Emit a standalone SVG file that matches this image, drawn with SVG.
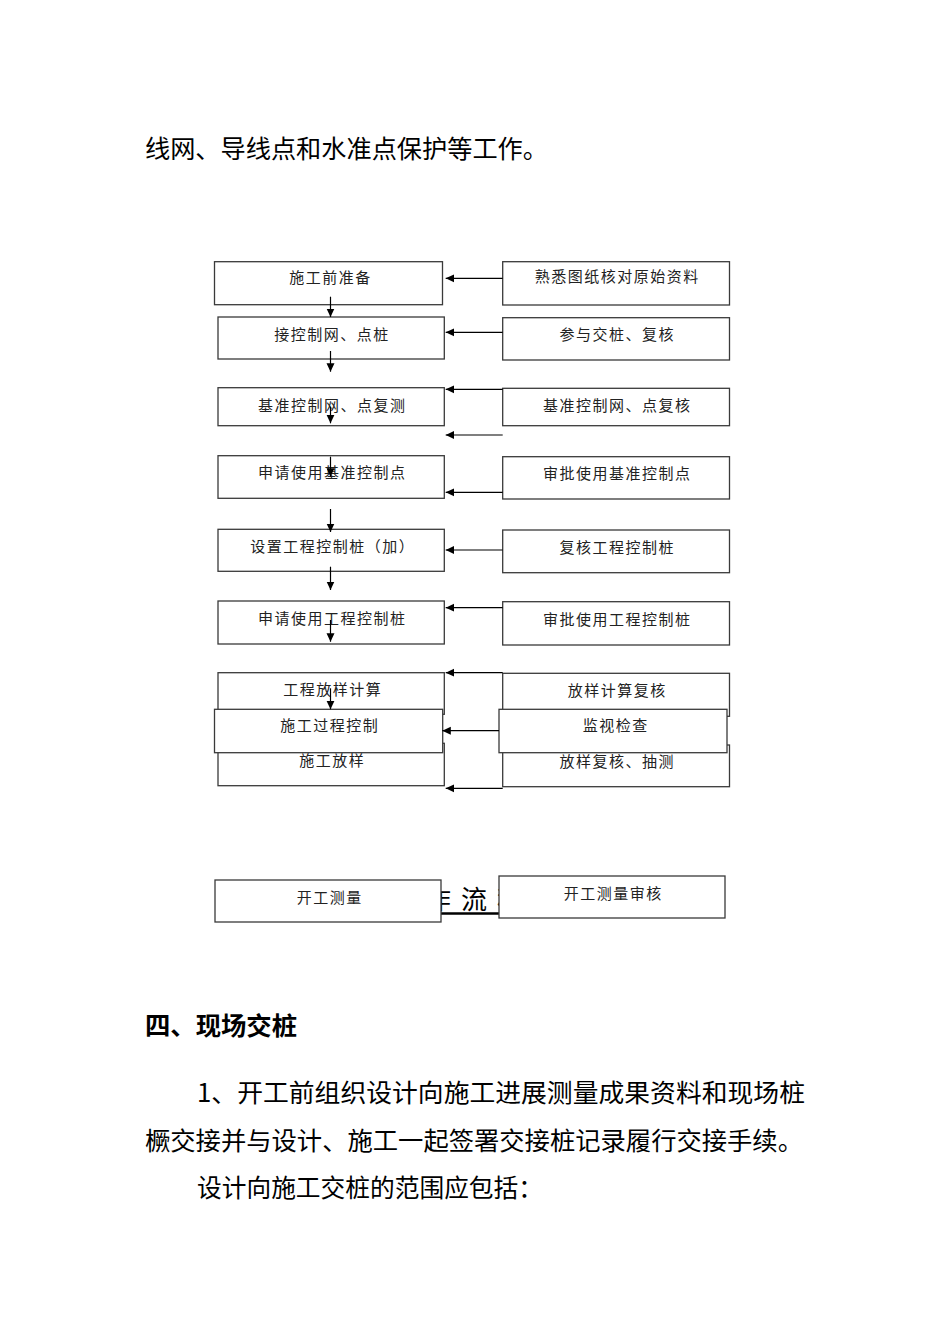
<svg xmlns="http://www.w3.org/2000/svg" width="950" height="1344" viewBox="0 0 950 1344">
<style>
.body{font-family:"Noto Sans CJK SC","Liberation Serif",sans-serif;font-size:25px;fill:#000}
.bold{font-weight:bold}
.box rect{fill:#fff;stroke:#3a3a3a;stroke-width:1.3}
.box text{font-family:"Noto Sans CJK SC",sans-serif;font-size:15px;letter-spacing:1.5px;fill:#222;text-anchor:middle}
.conn line{stroke:#000;stroke-width:1.2}
</style>
<defs>
<marker id="ah" markerUnits="userSpaceOnUse" markerWidth="9" markerHeight="9" refX="8.5" refY="4.5" orient="auto">
<path d="M0,0.5 L8.5,4.5 L0,8.5 z" fill="#000"/>
</marker>
</defs>
<rect width="950" height="1344" fill="#fff"/>
<text class="body" x="145" y="158" textLength="403" lengthAdjust="spacingAndGlyphs">线网、导线点和水准点保护等工作。</text>

<g id="title-behind">
<text x="425" y="909" style="font-family:'Noto Sans CJK SC',sans-serif;font-size:26px;letter-spacing:10px;fill:#000">作流程</text>
<line x1="420" y1="913.5" x2="525" y2="913.5" stroke="#000" stroke-width="2.6"/>
</g>

<g id="n-l1" class="box"><rect x="214.5" y="261.7" width="228" height="43"/><text x="330.5" y="283">施工前准备</text></g>
<g id="n-l2" class="box"><rect x="218" y="317" width="226.3" height="42"/><text x="332" y="340">接控制网、点桩</text></g>
<g id="n-l3" class="box"><rect x="218" y="387.7" width="226.3" height="38"/><text x="332.3" y="411">基准控制网、点复测</text></g>
<g id="n-l4" class="box"><rect x="218" y="455.7" width="226.3" height="42.6"/><text x="332.3" y="478">申请使用基准控制点</text></g>
<g id="n-l5" class="box"><rect x="218" y="529.3" width="226.3" height="42"/><text x="332.8" y="552">设置工程控制桩（加）</text></g>
<g id="n-l6" class="box"><rect x="218" y="601" width="226.3" height="43"/><text x="332.3" y="624">申请使用工程控制桩</text></g>
<g id="n-l7" class="box"><rect x="218" y="672.7" width="226.3" height="41.6"/><text x="332.8" y="695">工程放样计算</text></g>
<g id="n-l9" class="box"><rect x="218" y="743.3" width="226.3" height="42.4"/><text x="332.3" y="766">施工放样</text></g>
<g id="n-l8" class="box"><rect x="214.5" y="709.3" width="228.2" height="43.4"/><text x="329.8" y="731">施工过程控制</text></g>
<g id="n-l10" class="box"><rect x="215" y="880" width="226" height="42"/><text x="329.8" y="903">开工测量</text></g>

<g id="n-r1" class="box"><rect x="502.7" y="261.7" width="226.8" height="43.3"/><text x="617.3" y="282">熟悉图纸核对原始资料</text></g>
<g id="n-r2" class="box"><rect x="502.7" y="317.7" width="226.8" height="42.3"/><text x="617.3" y="340">参与交桩、复核</text></g>
<g id="n-r3" class="box"><rect x="502.7" y="388.3" width="226.8" height="37.4"/><text x="617.3" y="411">基准控制网、点复核</text></g>
<g id="n-r4" class="box"><rect x="502.7" y="456.7" width="226.8" height="42.3"/><text x="617.3" y="479">审批使用基准控制点</text></g>
<g id="n-r5" class="box"><rect x="502.7" y="530" width="226.8" height="42.7"/><text x="617.3" y="553">复核工程控制桩</text></g>
<g id="n-r6" class="box"><rect x="502.7" y="601.7" width="226.8" height="43.3"/><text x="617.3" y="625">审批使用工程控制桩</text></g>
<g id="n-r7" class="box"><rect x="502.7" y="673.3" width="226.8" height="43"/><text x="617.3" y="696">放样计算复核</text></g>
<g id="n-r9" class="box"><rect x="502.7" y="745" width="226.8" height="41.7"/><text x="617.3" y="767">放样复核、抽测</text></g>
<g id="n-r8" class="box"><rect x="499" y="709.3" width="228" height="43.4"/><text x="615.8" y="731">监视检查</text></g>
<g id="n-r10" class="box"><rect x="499" y="876" width="226" height="42"/><text x="613.3" y="899">开工测量审核</text></g>

<g id="connectors" class="conn">
<line x1="330.5" y1="296.7" x2="330.5" y2="317" marker-end="url(#ah)"/>
<line x1="330.5" y1="351" x2="330.5" y2="371.7" marker-end="url(#ah)"/>
<line x1="330.5" y1="406.7" x2="330.5" y2="423.3" marker-end="url(#ah)"/>
<line x1="330.5" y1="456.7" x2="330.5" y2="476.7" marker-end="url(#ah)"/>
<line x1="330.5" y1="509" x2="330.5" y2="532" marker-end="url(#ah)"/>
<line x1="330.5" y1="566.7" x2="330.5" y2="590" marker-end="url(#ah)"/>
<line x1="330.5" y1="620" x2="330.5" y2="641.7" marker-end="url(#ah)"/>
<line x1="330.5" y1="688.3" x2="330.5" y2="709.3" marker-end="url(#ah)"/>
<line x1="502.7" y1="278.3" x2="445.7" y2="278.3" marker-end="url(#ah)"/>
<line x1="502.7" y1="332.3" x2="445.7" y2="332.3" marker-end="url(#ah)"/>
<line x1="502.7" y1="389.3" x2="445.7" y2="389.3" marker-end="url(#ah)"/>
<line x1="502.7" y1="435" x2="445.7" y2="435" marker-end="url(#ah)"/>
<line x1="502.7" y1="492.3" x2="445.7" y2="492.3" marker-end="url(#ah)"/>
<line x1="502.7" y1="550" x2="445.7" y2="550" marker-end="url(#ah)"/>
<line x1="502.7" y1="607.7" x2="445.7" y2="607.7" marker-end="url(#ah)"/>
<line x1="502.7" y1="672.7" x2="445.7" y2="672.7" marker-end="url(#ah)"/>
<line x1="499" y1="730.7" x2="442.3" y2="730.7" marker-end="url(#ah)"/>
<line x1="502.7" y1="788.3" x2="445.7" y2="788.3" marker-end="url(#ah)"/>
</g>

<text class="body bold" x="145" y="1035" textLength="152" lengthAdjust="spacingAndGlyphs">四、现场交桩</text>
<text class="body" x="197" y="1102" textLength="608" lengthAdjust="spacingAndGlyphs">1、开工前组织设计向施工进展测量成果资料和现场桩</text>
<text class="body" x="145" y="1150" textLength="658" lengthAdjust="spacingAndGlyphs">橛交接并与设计、施工一起签署交接桩记录履行交接手续。</text>
<text class="body" x="197" y="1197" textLength="346" lengthAdjust="spacingAndGlyphs">设计向施工交桩的范围应包括：</text>
</svg>
